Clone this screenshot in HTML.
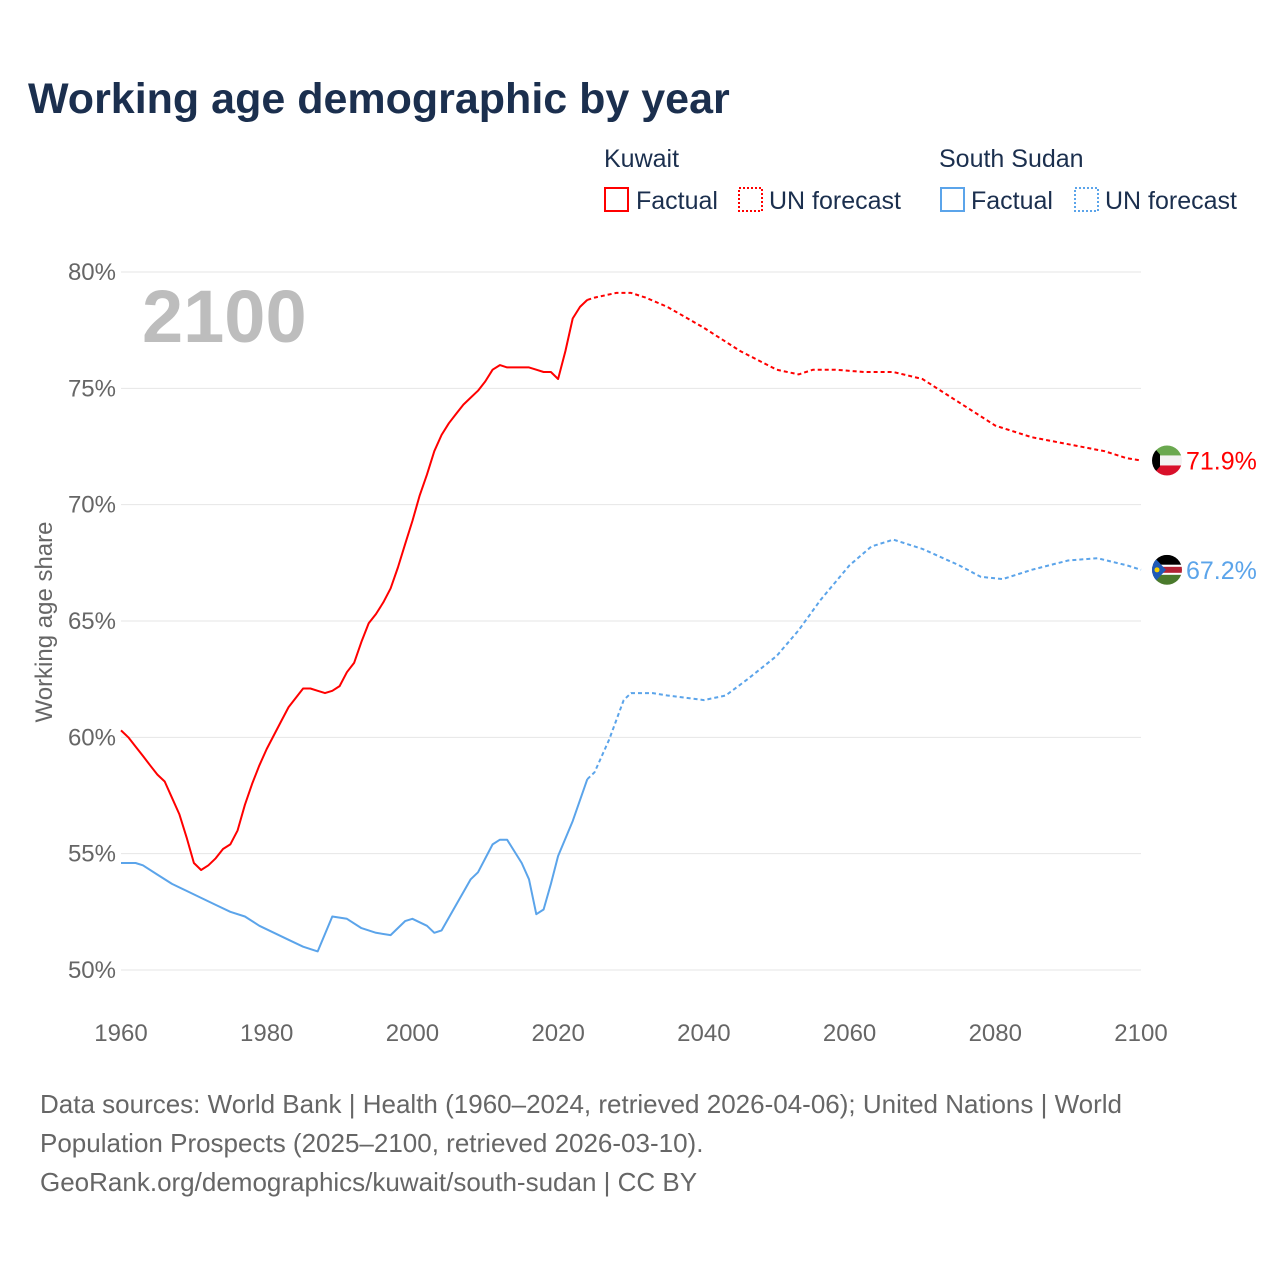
<!DOCTYPE html>
<html><head><meta charset="utf-8"><style>
body{margin:0;background:#fff;font-family:"Liberation Sans",sans-serif;}
svg text{font-family:"Liberation Sans",sans-serif;}
</style></head><body>
<svg id="chart" width="1280" height="1280" viewBox="0 0 1280 1280">
<text x="28" y="113" font-size="43" font-weight="bold" fill="#1b2f4e">Working age demographic by year</text>
<g font-size="25" fill="#1b2f4e">
<text x="604" y="167" fill="#1b2f4e">Kuwait</text>
<rect x="605" y="188" width="23" height="23" fill="none" stroke="#f00" stroke-width="2"/>
<text x="636" y="209" fill="#1b2f4e">Factual</text>
<rect x="739" y="188" width="23" height="23" fill="none" stroke="#f00" stroke-width="2" stroke-dasharray="2,2"/>
<text x="769" y="209" fill="#1b2f4e">UN forecast</text>
<text x="939" y="167" fill="#1b2f4e">South Sudan</text>
<rect x="941" y="188" width="23" height="23" fill="none" stroke="#5ba4ea" stroke-width="2"/>
<text x="971" y="209" fill="#1b2f4e">Factual</text>
<rect x="1075" y="188" width="23" height="23" fill="none" stroke="#5ba4ea" stroke-width="2" stroke-dasharray="2,2"/>
<text x="1105" y="209" fill="#1b2f4e">UN forecast</text>
</g>
<g id="grid"></g>
<text x="142" y="342" font-size="74" font-weight="bold" fill="#bdbdbd">2100</text>
<text transform="translate(52,622) rotate(-90)" text-anchor="middle" font-size="24" fill="#666">Working age share</text>
<g id="series"></g>
<g id="ends"></g>
<g font-size="26" fill="#666">
<text x="40" y="1113">Data sources: World Bank | Health (1960–2024, retrieved 2026-04-06); United Nations | World</text>
<text x="40" y="1152">Population Prospects (2025–2100, retrieved 2026-03-10).</text>
<text x="40" y="1191">GeoRank.org/demographics/kuwait/south-sudan | CC BY</text>
</g>
</svg>
<script>
const yTicks=[50,55,60,65,70,75,80];
const xTicks=[1960,1980,2000,2020,2040,2060,2080,2100];
const kuwaitYears=[1960,1961,1962,1963,1964,1965,1966,1967,1968,1969,1970,1971,1972,1973,1974,1975,1976,1977,1978,1979,1980,1981,1982,1983,1984,1985,1986,1987,1988,1989,1990,1991,1992,1993,1994,1995,1996,1997,1998,1999,2000,2001,2002,2003,2004,2005,2006,2007,2008,2009,2010,2011,2012,2013,2014,2015,2016,2017,2018,2019,2020,2021,2022,2023,2024];
const kuwaitValues=[60.3,60.0,59.6,59.2,58.8,58.4,58.1,57.4,56.7,55.7,54.6,54.3,54.5,54.8,55.2,55.4,56.0,57.1,58.0,58.8,59.5,60.1,60.7,61.3,61.7,62.1,62.1,62.0,61.9,62.0,62.2,62.8,63.2,64.1,64.9,65.3,65.8,66.4,67.3,68.3,69.3,70.4,71.3,72.3,73.0,73.5,73.9,74.3,74.6,74.9,75.3,75.8,76.0,75.9,75.9,75.9,75.9,75.8,75.7,75.7,75.4,76.6,78.0,78.5,78.8];
const kuwaitFcYears=[2024,2025,2028,2030,2032,2035,2040,2045,2050,2053,2055,2058,2062,2066,2070,2075,2080,2085,2090,2095,2098,2100];
const kuwaitFcValues=[78.8,78.9,79.1,79.1,78.9,78.5,77.6,76.6,75.8,75.6,75.8,75.8,75.7,75.7,75.4,74.4,73.4,72.9,72.6,72.3,72.0,71.9];
const ssYears=[1960,1962,1963,1965,1967,1969,1971,1973,1975,1977,1979,1981,1983,1985,1987,1989,1991,1993,1995,1997,1999,2000,2002,2003,2004,2006,2008,2009,2011,2012,2013,2015,2016,2017,2018,2019,2020,2022,2024];
const ssValues=[54.6,54.6,54.5,54.1,53.7,53.4,53.1,52.8,52.5,52.3,51.9,51.6,51.3,51.0,50.8,52.3,52.2,51.8,51.6,51.5,52.1,52.2,51.9,51.6,51.7,52.8,53.9,54.2,55.4,55.6,55.6,54.6,53.9,52.4,52.6,53.7,54.9,56.4,58.2];
const ssFcYears=[2024,2025,2027,2029,2030,2033,2035,2040,2043,2046,2050,2053,2056,2060,2063,2066,2070,2075,2078,2081,2085,2090,2094,2098,2100];
const ssFcValues=[58.2,58.5,59.9,61.6,61.9,61.9,61.8,61.6,61.8,62.5,63.5,64.6,65.9,67.4,68.2,68.5,68.1,67.4,66.9,66.8,67.2,67.6,67.7,67.4,67.2];
const NS='http://www.w3.org/2000/svg';
const X=y=>121+(y-1960)*(1020/140);
const Y=v=>970-(v-50)*(698/30);
function mk(t,a,p){const e=document.createElementNS(NS,t);for(const k in a)e.setAttribute(k,a[k]);p.appendChild(e);return e;}
const grid=document.getElementById('grid');
yTicks.forEach(v=>{
 const l=mk('line',{x1:121,x2:1141,y1:Y(v),y2:Y(v),stroke:'#e6e6e6','stroke-width':1},grid);
 
 
 const t=mk('text',{x:116,y:Y(v)+8,'text-anchor':'end','font-size':24,fill:'#666'},grid);t.textContent=v+'%';
 
 
});
xTicks.forEach(v=>{
 const t=mk('text',{x:X(v),y:1041,'text-anchor':'middle','font-size':24,fill:'#666'},grid);t.textContent=v;
 
 
});
const s=document.getElementById('series');
function line(xs,vs,col,dash,name){
 const d=xs.map((x,i)=>(i?'L':'M')+X(x).toFixed(1)+','+Y(vs[i]).toFixed(1)).join('');
 const p=mk('path',{d:d,fill:'none',stroke:col,'stroke-width':2,'stroke-linejoin':'round'},s);
 if(dash)p.setAttribute('stroke-dasharray','4,3');
 
 
}
line(kuwaitYears,kuwaitValues,'#f00',false,'kuwait-factual-line');
line(kuwaitFcYears,kuwaitFcValues,'#f00',true,'kuwait-forecast-line');
line(ssYears,ssValues,'#5ba4ea',false,'south-sudan-factual-line');
line(ssFcYears,ssFcValues,'#5ba4ea',true,'south-sudan-forecast-line');
const e=document.getElementById('ends');
const kv=kuwaitFcValues[kuwaitFcValues.length-1], sv=ssFcValues[ssFcValues.length-1];
const ky=Y(kv), sy=Y(sv);
e.innerHTML=`
<defs><clipPath id="ck"><circle cx="1167" cy="${ky}" r="15"/></clipPath><clipPath id="cs"><circle cx="1167" cy="${sy}" r="15"/></clipPath></defs>
<g clip-path="url(#ck)">
<rect x="1152" y="${ky-15}" width="30" height="10" fill="#6aa84f"/><rect x="1152" y="${ky-5}" width="30" height="10" fill="#f2f2f2"/><rect x="1152" y="${ky+5}" width="30" height="10" fill="#d8102a"/>
<polygon points="1152,${ky-15} 1160,${ky-6} 1160,${ky+6} 1152,${ky+15}" fill="#000"/></g>
<g clip-path="url(#cs)">
<rect x="1152" y="${sy-15}" width="30" height="10" fill="#000"/><rect x="1152" y="${sy-5}" width="30" height="10" fill="#fff"/><rect x="1152" y="${sy-3}" width="30" height="6" fill="#b22234"/><rect x="1152" y="${sy+5}" width="30" height="10" fill="#4a7a2c"/>
<polygon points="1152,${sy-15} 1166,${sy} 1152,${sy+15}" fill="#1f5ab8"/><circle cx="1157" cy="${sy}" r="2.5" fill="#f5d000"/></g>
<text x="1186" y="${ky+9}" font-size="25" fill="#f00">${kv.toFixed(1)}%</text>
<text x="1186" y="${sy+9}" font-size="25" fill="#5ba4ea">${sv.toFixed(1)}%</text>`;
</script>
</body></html>
